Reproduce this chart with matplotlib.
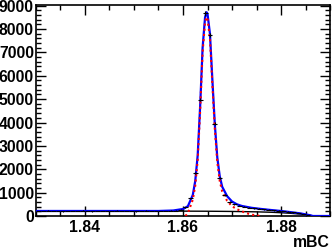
import numpy as np
import matplotlib
matplotlib.use("Agg")
import matplotlib.pyplot as plt
from matplotlib.ticker import MultipleLocator

# histogram of mBC, 60 bins of 0.001 from 1.83
mass_lo = 1.83
bin_width = 0.001
counts = [
    215, 208, 222, 210, 218, 205, 220, 212, 209, 224,
    214, 206, 219, 211, 216, 207, 221, 213, 210, 218,
    204, 215, 223, 208, 212, 219, 214, 226, 230, 265,
    370, 760, 1820, 4980, 8670, 7750, 3950, 1640, 900, 600,
    510, 440, 400, 360, 335, 310, 290, 270, 250, 235,
    210, 190, 160, 125, 90, 45, 5, 0, 0, 0,
]

# total fit (blue)
fit_x = [1.830, 1.855, 1.858, 1.860, 1.861, 1.862, 1.8625, 1.863, 1.8635,
         1.864, 1.8645, 1.8648, 1.865, 1.8655, 1.866, 1.8665, 1.867, 1.8675,
         1.868, 1.869, 1.870, 1.871, 1.872, 1.874, 1.876, 1.878, 1.880,
         1.882, 1.884, 1.886, 1.8865, 1.890]
fit_y = [215, 215, 235, 300, 420, 900, 1500, 2600, 4700,
         7200, 8500, 8720, 8650, 7800, 5800, 3900, 2500, 1700,
         1250, 850, 620, 500, 430, 350, 300, 255, 215,
         165, 110, 30, 0, 0]

# signal component (red dotted)
sig_x = [1.8605, 1.861, 1.862, 1.8625, 1.863, 1.8635, 1.864, 1.8645, 1.8648,
         1.865, 1.8655, 1.866, 1.8665, 1.867, 1.8675, 1.868, 1.869, 1.870,
         1.871, 1.872, 1.873, 1.874, 1.875, 1.876]
sig_y = [0, 120, 700, 1300, 2400, 4500, 7000, 8300, 8510,
         8450, 7600, 5600, 3700, 2300, 1500, 1050, 650, 420,
         290, 200, 120, 60, 20, 0]

# background component (black)
bkg_x = [1.830, 1.840, 1.850, 1.860, 1.865, 1.870, 1.875, 1.878, 1.880,
         1.882, 1.884, 1.885, 1.886, 1.8865]
bkg_y = [215, 214, 212, 208, 204, 195, 178, 160, 140, 115, 80, 55, 25, 0]

centers = mass_lo + bin_width * (np.arange(len(counts)) + 0.5)
counts = np.array(counts)

plt.rcParams['font.family'] = ['Liberation Sans', 'DejaVu Sans']
plt.rcParams['font.weight'] = 'bold'

fig = plt.figure(figsize=(3.32, 2.5), dpi=100)
ax = fig.add_axes([0.1084, 0.136, 0.8856, 0.846])

ax.plot(bkg_x, bkg_y, color='black', lw=1.0, zorder=2)
ax.plot(fit_x, fit_y, color='blue', lw=1.6, zorder=3)
ax.plot(sig_x, sig_y, color='red', lw=1.5, ls=(0, (1, 1.5)), zorder=4)
ax.errorbar(centers, counts, xerr=bin_width / 2, yerr=np.sqrt(counts),
            fmt='none', ecolor='black', elinewidth=0.8, capsize=0, zorder=5)

ax.set_xlim(1.83, 1.89)
ax.set_ylim(0, 9050)
ax.xaxis.set_major_locator(MultipleLocator(0.02))
ax.xaxis.set_minor_locator(MultipleLocator(0.005))
ax.yaxis.set_major_locator(MultipleLocator(1000))
ax.yaxis.set_minor_locator(MultipleLocator(200))
ax.xaxis.set_major_formatter(plt.FuncFormatter(lambda v, p: f"{v:.2f}"))
ax.tick_params(which='both', direction='in', top=True, right=True,
               width=1.0, labelsize=11.3, pad=1.5)
ax.tick_params(which='major', length=7)
ax.tick_params(which='minor', length=3.5)
ax.tick_params(axis='x', pad=3)
for s in ax.spines.values():
    s.set_linewidth(1.2)

fig.text(0.994, 0.0, "mBC", ha='right', va='bottom', fontsize=11.3,
         fontweight='bold')

fig.savefig("out.png", dpi=100)
